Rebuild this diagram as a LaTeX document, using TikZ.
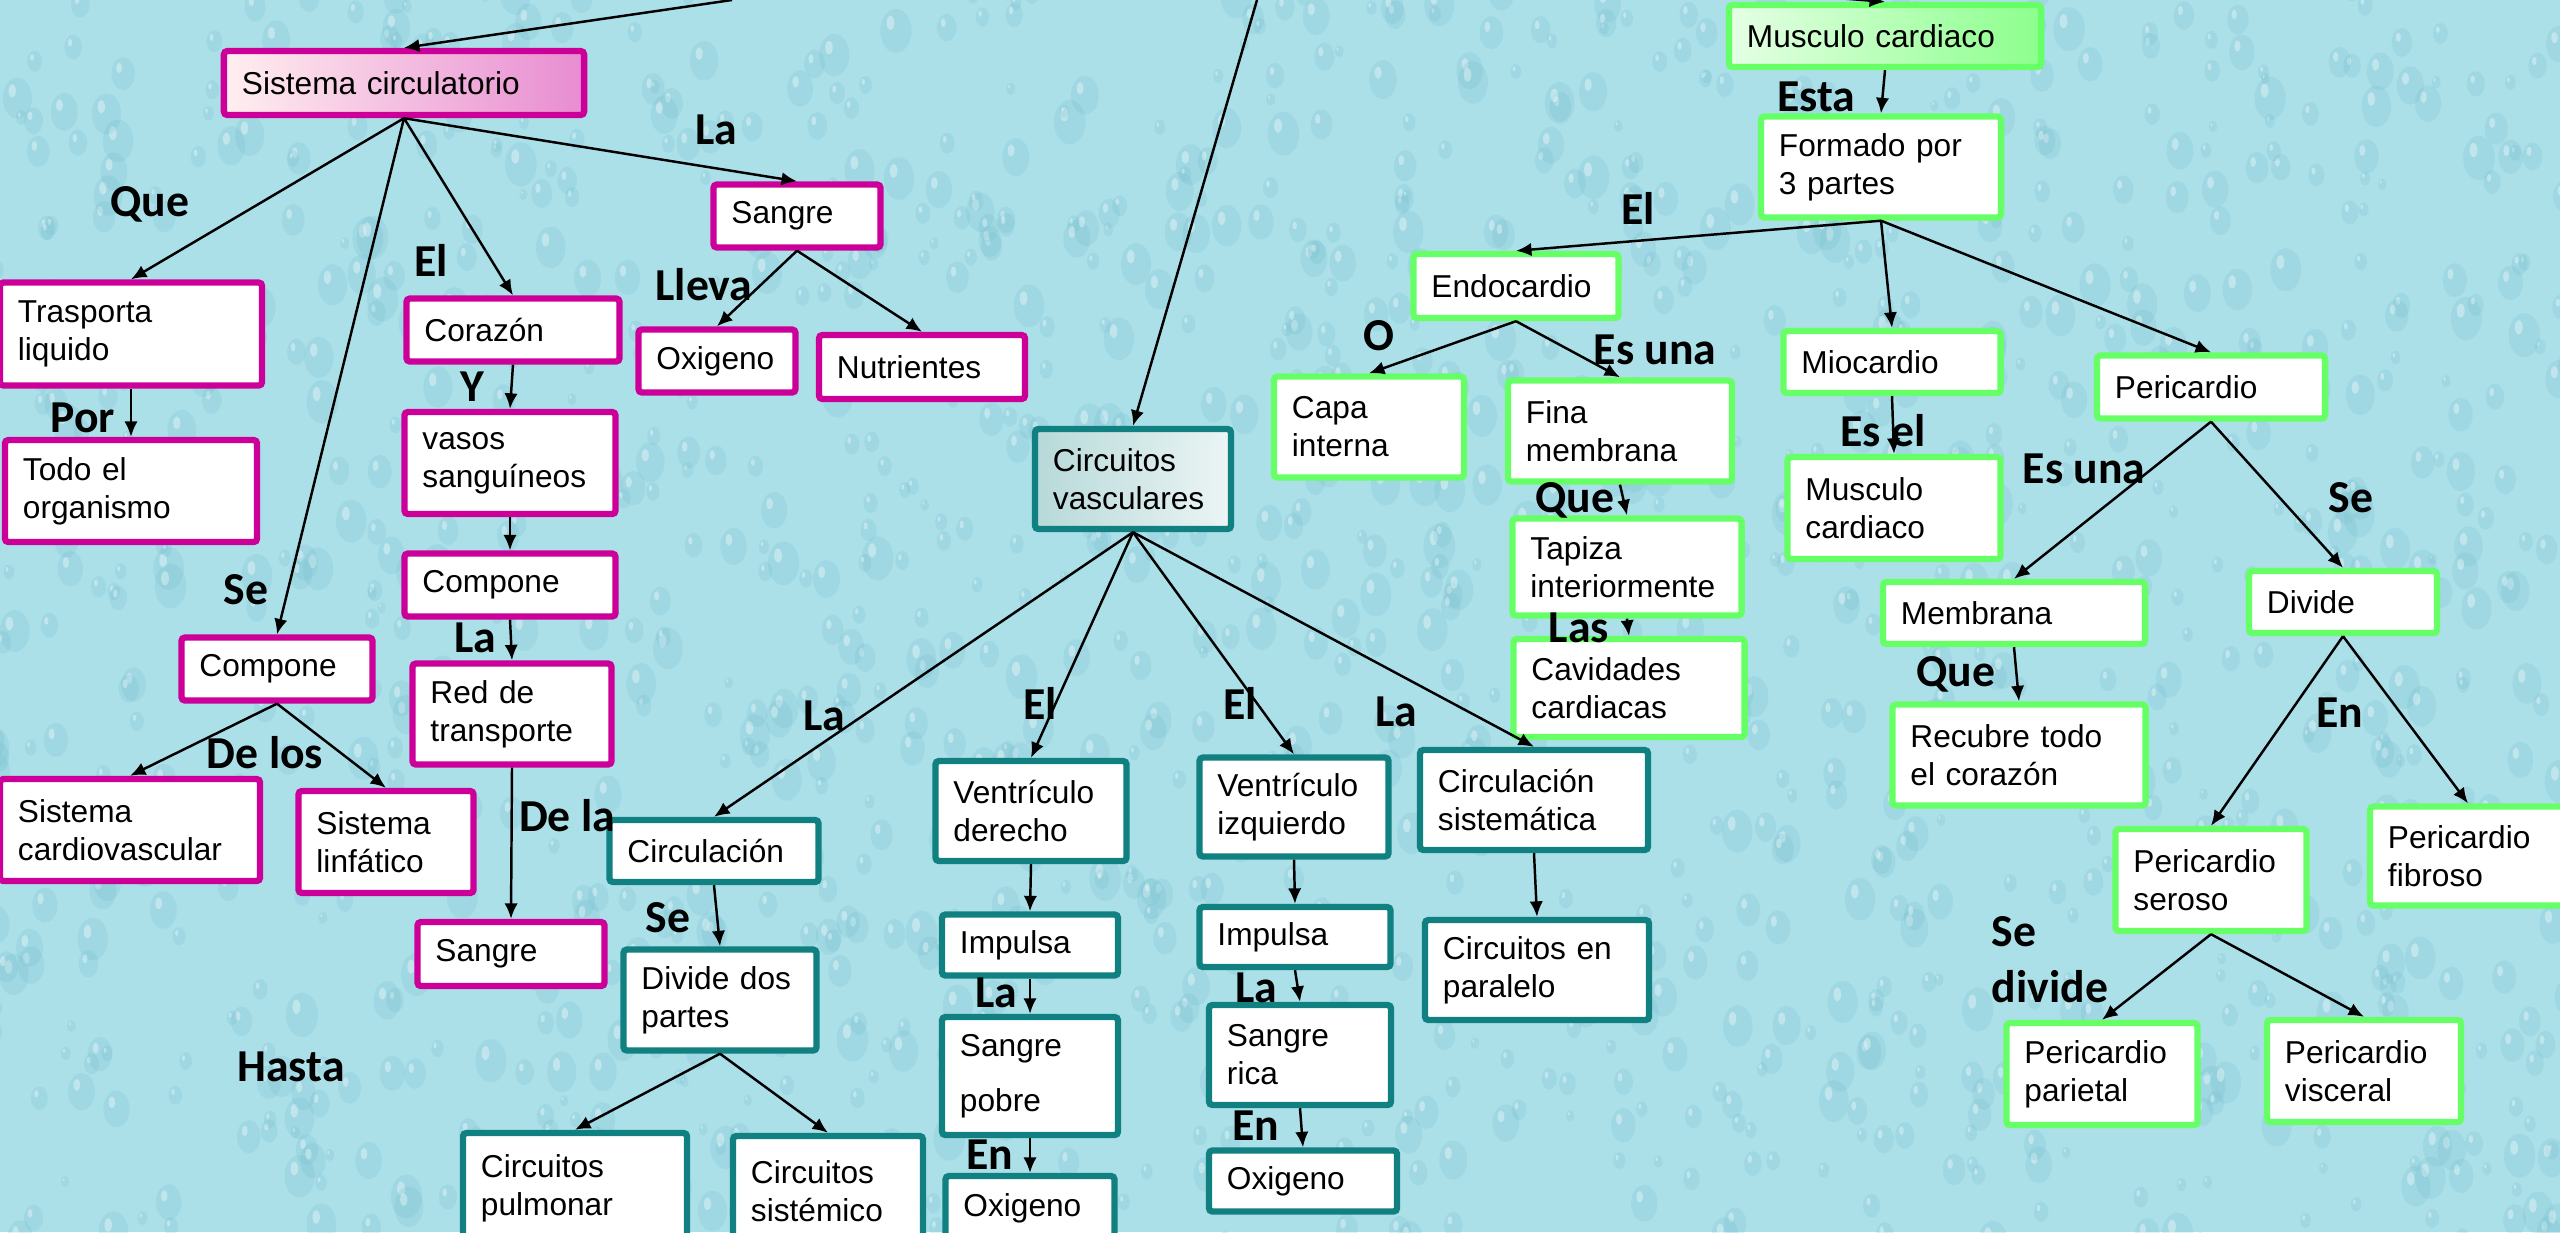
\documentclass[tikz,border=0pt]{standalone}
\usepackage{fontspec}
\setmainfont{Liberation Sans}
\newfontfamily\lblfont{Carlito}
\usetikzlibrary{arrows.meta}
\definecolor{bgblue}{RGB}{172,224,232}
\definecolor{bgdrop}{RGB}{110,185,205}
\definecolor{pinkline}{RGB}{204,0,153}
\definecolor{tealline}{RGB}{16,128,128}
\definecolor{greenline}{RGB}{102,255,102}

\begin{document}
\begin{tikzpicture}[x=0.01cm,y=-0.01cm,>={Latex[length=4.4pt,width=3.8pt]},
	box/.style={draw,fill=white,line width=1.8pt,rounded corners=1pt,align=left,inner xsep=0.18cm,inner ysep=0pt,font=\fontsize{9}{10.8}\selectfont},
	pinkbox/.style={box,draw=pinkline},
	tealbox/.style={box,draw=tealline},
	greenbox/.style={box,draw=greenline},
	wh/.code 2 args={\pgfmathsetmacro\tw{#1/100-0.42}\pgfmathsetmacro\hh{#2/100}\tikzset{text width=\tw cm,minimum height=\hh cm}},
	lbl/.style={font=\fontsize{13}{16}\selectfont\lblfont\bfseries,align=left,inner sep=0pt},
	link/.style={->,line width=0.7pt}]
	\useasboundingbox (0,0) rectangle (2560,1232);
	\fill[bgblue] (0,0) rectangle (2560,1232);
	% water drops
	\pgfmathsetseed{11}
	\foreach \i in {1,...,1500}{
		\pgfmathsetmacro\dx{rnd*2600-20}
		\pgfmathsetmacro\dy{rnd*1260-15}
		\pgfmathsetmacro\dr{4+rnd*12}
		\fill[bgdrop,opacity=0.2] (\dx,\dy) ellipse [x radius=\dr, y radius=1.4*\dr];
		\fill[white,opacity=0.35] (\dx-0.35*\dr,\dy-0.5*\dr) ellipse [x radius=0.25*\dr, y radius=0.45*\dr];
	}
	% free ends at the top edge
	\coordinate (topA) at (732,0);
	\coordinate (topB) at (1257,0);
	\coordinate (topC) at (1837,-2);
	% title boxes
	\node[pinkbox,wh={366}{64},left color=pink!25,right color=pinkline!45] (sc) at (404,83) {Sistema circulatorio};
	\node[tealbox,wh={202}{100},left color=tealline!30,right color=tealline!8] (cv) at (1133,479) {Circuitos\\vasculares};
	\node[greenbox,wh={318}{62},left color=green!10,right color=greenline!75] (mct) at (1885,36) {Musculo cardiaco};
	% sistema circulatorio
	\foreach \n/\cx/\cy/\w/\h/\t in {tras/131/334/268/103/Trasporta\\liquido, todo/131/491/258/102/Todo el\\organismo,
		cor/513/330/219/63/Corazón, vasos/510/463/217/102/vasos\\sanguíneos, compM/510/585/217/63/Compone,
		red/512/714/205/101/Red de\\transporte, sangB/511/954/193/64/Sangre, sangT/797/216/173/63/Sangre,
		oxi/717/361/163/63/Oxigeno, nutr/922/367/212/64/Nutrientes, compL/277/669/197/63/Compone,
		cardio/130/830/266/102/Sistema\\cardiovascular, linf/386/842/181/102/Sistema\\linfático}
		\node[pinkbox,wh={\w}{\h}] (\n) at (\cx,\cy) {\t};
	% circuitos vasculares
	\foreach \n/\cx/\cy/\w/\h/\t in {circ/714/851/215/62/Circulación, ddp/720/1000/199/101/Divide dos\\partes,
		pulm/575/1188/230/110/Circuitos\\pulmonar, sist/828/1191/196/110/Circuitos\\sistémico,
		vd/1031/811/197/100/Ventrículo\\derecho, impL/1030/945/182/61/Impulsa, pobre/1030/1076/182/118/Sangre\\[5pt]pobre,
		oxiL/1030/1208/175/64/Oxigeno, vi/1294/807/195/99/Ventrículo\\izquierdo, impR/1295/937/197/60/Impulsa,
		rica/1300/1055/188/100/Sangre\\rica, oxiR/1303/1181/194/61/Oxigeno,
		cs/1534/800/234/100/Circulación\\sistemática, cp/1537/970/230/100/Circuitos en\\paralelo}
		\node[tealbox,wh={\w}{\h}] (\n) at (\cx,\cy) {\t};
	% musculo cardiaco
	\foreach \n/\cx/\cy/\w/\h/\t in {form/1881/167/246/101/Formado por\\3 partes, endo/1516/286/211/64/Endocardio,
		capa/1369/427/196/101/Capa\\interna, fina/1620/431/230/101/Fina\\membrana, tap/1627/567/235/97/Tapiza\\interiormente,
		cav/1629/688/237/98/Cavidades\\cardiacas, mio/1892/362/223/62/Miocardio, mcm/1894/508/219/102/Musculo\\cardiaco,
		peri/2211/387/234/63/Pericardio, memb/2014/613/268/62/Membrana, recu/2019/755/259/101/Recubre todo\\el corazón,
		divi/2343/602/194/62/Divide, ser/2211/880/197/102/Pericardio\\seroso, fib/2468/856/202/99/Pericardio\\fibroso,
		par/2102/1074/197/102/Pericardio\\parietal, vis/2364/1071/200/102/Pericardio\\visceral}
		\node[greenbox,wh={\w}{\h}] (\n) at (\cx,\cy) {\t};
	% connectors
	\draw[link] (topA) -- (sc.north);
	\draw[link] (topB) -- (cv.north);
	\draw[link] (topC) -- (mct.north);
	\foreach \a/\b in {sc/tras, sc/compL, sc/cor, sc/sangT, tras/todo, cor/vasos, vasos/compM, compM/red, red/sangB,
		sangT/oxi, sangT/nutr, compL/cardio, compL/linf,
		cv/circ, cv/vd, cv/vi, cv/cs, circ/ddp, ddp/pulm, ddp/sist, vd/impL, impL/pobre, pobre/oxiL,
		vi/impR, impR/rica, rica/oxiR, cs/cp,
		mct/form, form/endo, form/mio, form/peri, endo/capa, endo/fina, fina/tap, tap/cav, mio/mcm,
		peri/memb, peri/divi, memb/recu, divi/ser, divi/fib, ser/par, ser/vis}
		\draw[link] (\a.south) -- (\b.north);
	% linking words
	\foreach \n/\cx/\cy/\t in {lLa1/716/130/La, lQue1/150/204/Que, lEl1/431/260/El, lLleva/704/285/Lleva,
		lPor/83/418/Por, lY/472/387/Y, lSe1/246/590/Se, lLa2/475/638/La, lDelos/265/753/De los,
		lDela/567/816/De la, lSe2/668/918/Se, lHasta/291/1067/Hasta, lLa3/824/716/La, lEl2/1040/703/El,
		lEl3/1240/703/El, lLa4/1396/712/La, lLa5/996/993/La, lEn1/990/1155/En, lLa6/1256/988/La,
		lEn2/1256/1126/En, lEsta/1816/97/Esta, lEl4/1638/208/El, lO/1379/336/O, lEsuna1/1655/350/Es una,
		lEsel/1883/431/Es el, lEsuna2/2084/469/Es una, lSe3/2351/498/Se, lQue2/1575/500/Que,
		lLas/1579/628/Las, lQue3/1956/674/Que, lEn3/2340/713/En, lSediv/2050/960/Se\\divide}
		\node[lbl] (\n) at (\cx,\cy) {\t};
\end{tikzpicture}
\end{document}
